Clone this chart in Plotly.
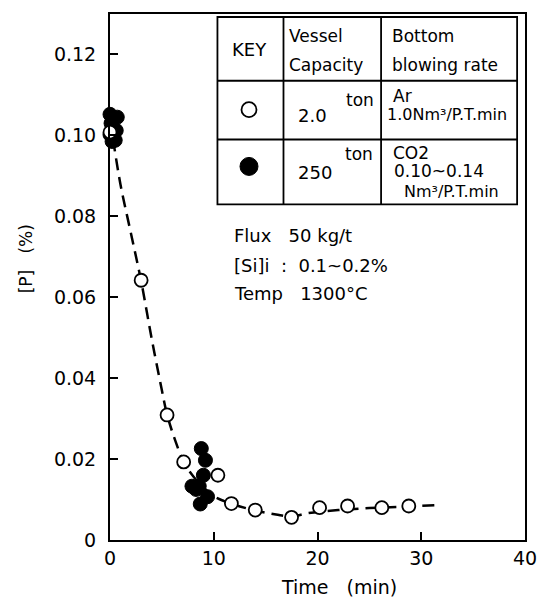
import plotly.graph_objects as go

# ---------------- data ----------------
# 2.0 ton vessel, Ar bottom blowing (open circles)
t_open = [0.0, 3.0, 5.5, 7.1, 10.4, 11.7, 14.0, 17.5, 20.2, 22.9, 26.2, 28.8]
p_open = [0.1008, 0.0642, 0.0309, 0.0193, 0.0160, 0.0090, 0.0074, 0.0056, 0.0080, 0.0084, 0.0080, 0.0084]

# 250 ton vessel, CO2 bottom blowing (filled circles)
t_fill = [0.0, 0.7, 0.1, 0.6, 0.2, 0.5, 0.0, 8.8, 9.2, 9.0, 7.9, 8.6, 9.4, 8.7, 8.3]
p_fill = [0.1052, 0.1045, 0.1030, 0.1012, 0.0985, 0.0988, 0.1002, 0.0226, 0.0197, 0.0160, 0.0133, 0.0133, 0.0107, 0.0089, 0.0125]

# hand-drawn trend curve (dashed)
t_curve = [0.3, 1.0, 2.0, 3.0, 4.0, 5.0, 5.5, 6.3, 7.1, 8.0, 9.0, 10.0, 11.0, 12.0, 14.0, 16.0, 17.5, 19.0, 22.0, 25.0, 28.0, 31.4]
p_curve = [0.0990, 0.0880, 0.0760, 0.0640, 0.0500, 0.0370, 0.0310, 0.0245, 0.0193, 0.0158, 0.0130, 0.0108, 0.0096, 0.0087, 0.0073, 0.0063, 0.0058, 0.0066, 0.0074, 0.0079, 0.0082, 0.0086]

x_ticks = [0, 10, 20, 30, 40]
x_ticktext = ["0", "10", "20", "30", "40"]
y_ticks = [0, 0.02, 0.04, 0.06, 0.08, 0.10, 0.12]
y_ticktext = ["0", "0.02", "0.04", "0.06", "0.08", "0.10", "0.12"]

FONT = "DejaVu Sans"
W, H = 549, 601
L, R, T, B = 110, 18, 12, 61
PW, PH = W - L - R, H - T - B


def px(x):
    return (x - L) / PW


def py(y):
    return (H - B - y) / PH


fig = go.Figure()

fig.add_trace(go.Scatter(
    x=t_curve, y=p_curve, mode="lines",
    line=dict(color="black", width=2.5, dash="12px,7px", shape="spline", smoothing=1.0),
    hoverinfo="skip", cliponaxis=False,
))
fig.add_trace(go.Scatter(
    x=t_fill, y=p_fill, mode="markers",
    marker=dict(symbol="circle", size=14, color="black", line=dict(color="black", width=1)),
    cliponaxis=False,
))
fig.add_trace(go.Scatter(
    x=t_open, y=p_open, mode="markers",
    marker=dict(symbol="circle", size=13, color="white", line=dict(color="black", width=1.8)),
    cliponaxis=False,
))

axis_common = dict(
    showline=True, linecolor="black", linewidth=2, mirror=True,
    ticks="inside", ticklen=8, tickwidth=1.5, tickcolor="black",
    showgrid=False, zeroline=False,
    tickfont=dict(family=FONT, size=19, color="black"),
)

fig.update_xaxes(range=[0, 40], tickvals=x_ticks, ticktext=x_ticktext, **axis_common)
fig.update_yaxes(range=[0, 0.13], tickvals=y_ticks, ticktext=y_ticktext,
                 ticklabelstandoff=8, **axis_common)

ann = []
# axis titles
ann.append(dict(x=px(342), y=py(587), xref="paper", yref="paper", text="Time   (min)",
                showarrow=False, font=dict(family=FONT, size=19, color="black"),
                xanchor="center", yanchor="middle"))
ann.append(dict(x=px(25), y=py(258), xref="paper", yref="paper", text="[P]   (%)",
                showarrow=False, textangle=-90, font=dict(family=FONT, size=17, color="black"),
                xanchor="center", yanchor="middle"))

# conditions text
for txt, yc in [("Flux   50 kg/t", 234), ("[Si]i  :  0.1~0.2%", 264), ("Temp   1300°C", 293)]:
    ann.append(dict(x=px(234), y=py(yc), xref="paper", yref="paper", text=txt,
                    showarrow=False, font=dict(family=FONT, size=18, color="black"),
                    xanchor="left", yanchor="middle"))

# key table text
table_text = [
    ("KEY", 252, 48, "center", 18),
    ("Vessel", 290, 34, "left", 17),
    ("Capacity", 290, 63, "left", 17),
    ("Bottom", 394, 34, "left", 17),
    ("blowing rate", 394, 63, "left", 17),
    ("2.0", 299, 114, "left", 18),
    ("ton", 347, 98, "left", 17),
    ("Ar", 395, 94, "left", 17),
    ("1.0Nm³/P.T.min", 389, 113, "left", 16),
    ("250", 299, 171, "left", 18),
    ("ton", 346, 153, "left", 17),
    ("CO2", 395, 152, "left", 17),
    ("0.10~0.14", 396, 170, "left", 17),
    ("Nm³/P.T.min", 406, 190, "left", 16),
]
for txt, x, y, anchor, size in table_text:
    ann.append(dict(x=px(x), y=py(y), xref="paper", yref="paper", text=txt,
                    showarrow=False, font=dict(family=FONT, size=size, color="black"),
                    xanchor=anchor, yanchor="middle"))

shapes = []
lw = 1.8
# table outline and grid
shapes.append(dict(type="rect", xref="paper", yref="paper",
                   x0=px(219), x1=px(523), y0=py(203), y1=py(15),
                   line=dict(color="black", width=lw), fillcolor="white", layer="below"))
for xv in [286, 385]:
    shapes.append(dict(type="line", xref="paper", yref="paper",
                       x0=px(xv), x1=px(xv), y0=py(203), y1=py(15),
                       line=dict(color="black", width=lw)))
for yv in [79, 138]:
    shapes.append(dict(type="line", xref="paper", yref="paper",
                       x0=px(219), x1=px(523), y0=py(yv), y1=py(yv),
                       line=dict(color="black", width=lw)))
# key symbols
shapes.append(dict(type="circle", xref="paper", yref="paper", xsizemode="pixel", ysizemode="pixel",
                   xanchor=px(251), yanchor=py(108), x0=-7.5, x1=7.5, y0=-7.5, y1=7.5,
                   line=dict(color="black", width=1.8), fillcolor="white"))
shapes.append(dict(type="circle", xref="paper", yref="paper", xsizemode="pixel", ysizemode="pixel",
                   xanchor=px(251), yanchor=py(165), x0=-9, x1=9, y0=-9, y1=9,
                   line=dict(color="black", width=1), fillcolor="black"))

fig.update_layout(
    width=W, height=H,
    margin=dict(l=L, r=R, t=T, b=B),
    paper_bgcolor="white", plot_bgcolor="white",
    showlegend=False,
    annotations=ann, shapes=shapes,
    font=dict(family=FONT, color="black"),
)

fig.write_html("out.html")
